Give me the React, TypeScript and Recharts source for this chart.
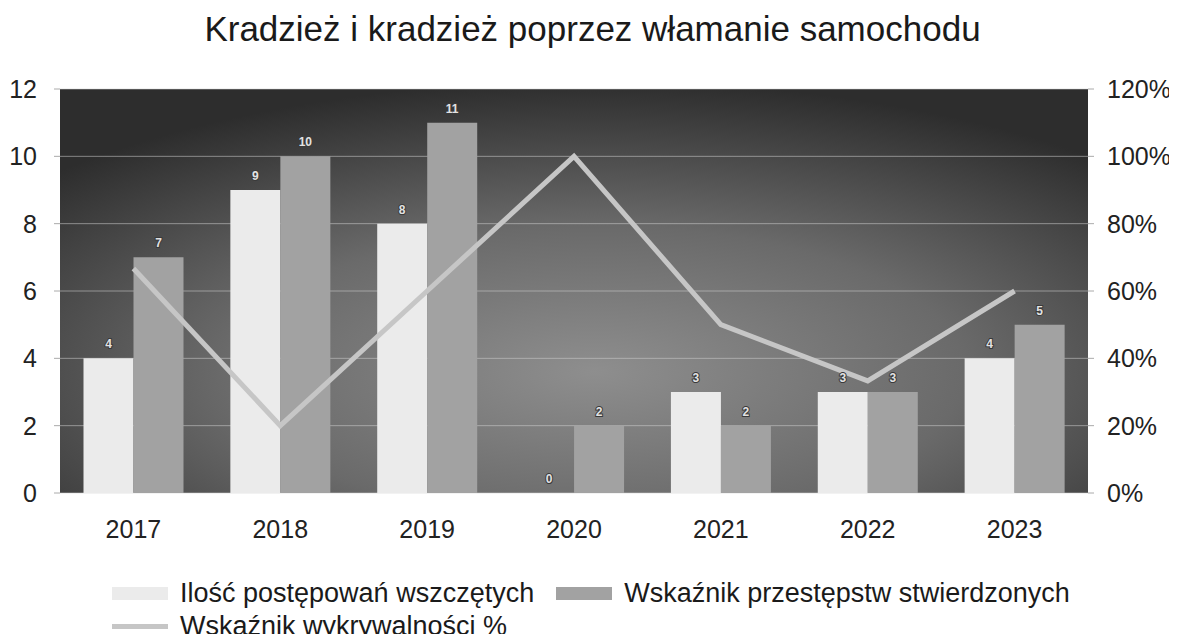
import { ComposedChart, Bar, Line, XAxis, YAxis, CartesianGrid, LabelList } from "recharts";

const years = ["2017", "2018", "2019", "2020", "2021", "2022", "2023"];
const started = [4, 9, 8, 0, 3, 3, 4];
const confirmed = [7, 10, 11, 2, 2, 3, 5];
const detection = [66.7, 20, 60, 100, 50, 33.3, 60];

const leftTicks = [0, 2, 4, 6, 8, 10, 12];
const rightTicks = [0, 20, 40, 60, 80, 100, 120];

const seriesNames = {
  started: "Ilość postępowań wszczętych",
  confirmed: "Wskaźnik przestępstw stwierdzonych",
  detection: "Wskaźnik wykrywalności %",
};

const data = years.map((year, i) => ({
  year,
  started: started[i],
  confirmed: confirmed[i],
  detection: detection[i],
}));

const font = '"Liberation Sans", Arial, sans-serif';
const lightBar = "#ebebeb";
const darkBar = "#a2a2a2";
const lineColor = "#c6c6c6";

// value label drawn above each bar, also for zero-height bars
const BarValue = (props: any) => {
  const { x, y, width, value } = props;
  if (value === undefined || value === null) return null;
  return (
    <text
      x={Number(x) + Number(width) / 2}
      y={Number(y) - 10}
      textAnchor="middle"
      fill="#e2e2e2"
      fontSize={12}
      fontWeight="bold"
      fontFamily={font}
      stroke="#3a3a3a"
      strokeWidth={2}
      style={{ paintOrder: "stroke" }}
    >
      {value}
    </text>
  );
};

const tickStyle = { fontSize: 25, fill: "#222", fontFamily: font };

export default function App() {
  return (
    <div style={{ position: "relative", width: 1169, height: 626, fontFamily: font }}>
      <div
        style={{
          position: "absolute",
          top: 1,
          left: 0,
          width: 1169,
          textAlign: "center",
          fontSize: 35,
          lineHeight: "normal",
          color: "#1a1a1a",
        }}
      >
        Kradzież i kradzież poprzez włamanie samochodu
      </div>

      <ComposedChart
        width={1169}
        height={626}
        data={data}
        margin={{ top: 81, right: 19, left: 8, bottom: 101 }}
        barCategoryGap="16%"
        barGap={0}
      >
        <defs>
          <radialGradient id="plotBg" cx="0.52" cy="0.7" r="0.72">
            <stop offset="0%" stopColor="#8e8e8e" />
            <stop offset="50%" stopColor="#6a6a6a" />
            <stop offset="100%" stopColor="#2d2d2d" />
          </radialGradient>
        </defs>
        <CartesianGrid
          yAxisId="left"
          vertical={false}
          fill="url(#plotBg)"
          fillOpacity={1}
          stroke="#cfcfcf"
          strokeOpacity={0.55}
        />
        <XAxis
          dataKey="year"
          height={40}
          axisLine={false}
          tickLine={false}
          tickSize={0}
          tickMargin={27}
          tick={tickStyle}
        />
        <YAxis
          yAxisId="left"
          width={44}
          domain={[0, 12]}
          ticks={leftTicks}
          axisLine={false}
          tickLine={{ stroke: "#aaa" }}
          tickSize={6}
          tickMargin={17}
          tick={tickStyle}
        />
        <YAxis
          yAxisId="right"
          orientation="right"
          width={70}
          domain={[0, 120]}
          ticks={rightTicks}
          tickFormatter={(v: number) => `${v}%`}
          axisLine={false}
          tickLine={{ stroke: "#aaa" }}
          tickSize={6}
          tickMargin={13}
          tick={tickStyle}
        />
        <Bar
          yAxisId="left"
          dataKey="started"
          name={seriesNames.started}
          fill={lightBar}
          minPointSize={0.01}
          isAnimationActive={false}
        >
          <LabelList dataKey="started" content={BarValue} />
        </Bar>
        <Bar yAxisId="left" dataKey="confirmed" name={seriesNames.confirmed} fill={darkBar} isAnimationActive={false}>
          <LabelList dataKey="confirmed" content={BarValue} />
        </Bar>
        <Line
          yAxisId="right"
          dataKey="detection"
          name={seriesNames.detection}
          stroke={lineColor}
          strokeWidth={5}
          dot={false}
          activeDot={false}
          isAnimationActive={false}
        />
      </ComposedChart>

      <div style={{ position: "absolute", left: 104, top: 569, fontSize: 27, color: "#1a1a1a", lineHeight: "33px" }}>
        <div style={{ display: "flex", alignItems: "center", whiteSpace: "nowrap" }}>
          <span style={{ display: "inline-block", width: 56, height: 13, background: lightBar, marginRight: 12 }} />
          <span>{seriesNames.started}</span>
          <span style={{ display: "inline-block", width: 56, height: 13, background: darkBar, margin: "0 12px 0 22px" }} />
          <span>{seriesNames.confirmed}</span>
        </div>
        <div style={{ display: "flex", alignItems: "center", whiteSpace: "nowrap" }}>
          <span style={{ display: "inline-block", width: 56, height: 5, background: lineColor, marginRight: 12 }} />
          <span>{seriesNames.detection}</span>
        </div>
      </div>
    </div>
  );
}
